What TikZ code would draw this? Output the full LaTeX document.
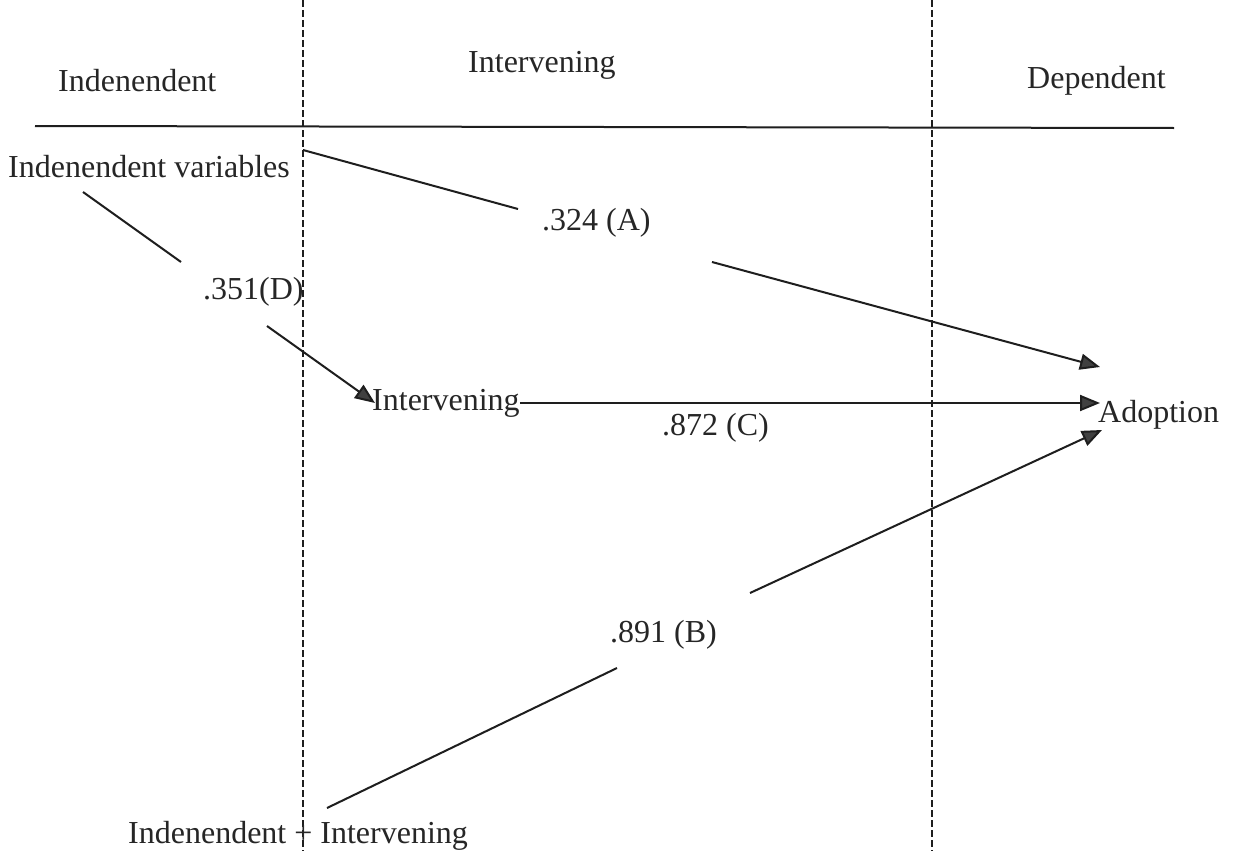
\documentclass[tikz,border=0pt]{standalone}
\usepackage{fontspec}
\setmainfont{Liberation Serif}
\usetikzlibrary{arrows.meta,calc}
\definecolor{ink}{HTML}{1E1E1E}
\definecolor{txt}{HTML}{262626}
\tikzset{
  lbl/.style={inner sep=0pt, anchor=base west, text=txt, font=\fontsize{32}{38}\selectfont},
  conn/.style={draw=ink, line width=2pt},
  arr/.style={conn, -{Triangle[length=20pt,width=16pt,fill=ink!85]}},
  divider/.style={draw=ink, line width=1.5pt, dash pattern=on 7pt off 3pt},
  rule/.style={draw=ink, line width=2pt}
}
\begin{document}
\begin{tikzpicture}[x=1pt,y=-1pt]
\useasboundingbox[fill=white] (0,0) rectangle (1233,851);
% column dividers
\coordinate (d1top) at (303,0);
\coordinate (d1bot) at (303,851);
\coordinate (d2top) at (932,0);
\coordinate (d2bot) at (932,851);
\draw[divider] (d1top) -- (d1bot);
\draw[divider] (d2top) -- (d2bot);
% header rule
\coordinate (ruleL) at (35,126);
\coordinate (ruleR) at (1174,128);
\draw[rule] (ruleL) -- (ruleR);
% headers
\node[lbl] (hInd) at (58,92) {Indenendent};
\node[lbl] (hInt) at (468,72) {Intervening};
\node[lbl] (hDep) at (1027,88) {Dependent};
% nodes
\node[lbl] (indvar) at (8,177) {Indenendent variables};
\node[lbl] (intmid) at (372,410) {Intervening};
\node[lbl] (adopt) at (1098,422) {Adoption};
\node[lbl] (both) at (128,843) {Indenendent + Intervening};
% path labels
\node[lbl] (lA) at (542,230) {.324 (A)};
\node[lbl] (lD) at (203,299) {.351(D)};
\node[lbl] (lC) at (662,435) {.872 (C)};
\node[lbl] (lB) at (610,642) {.891 (B)};
% free ends of broken connectors
\coordinate (a1) at (303,150);
\coordinate (a2) at (518,209);
\coordinate (a3) at (712,262);
\coordinate (d1) at (83,192);
\coordinate (d2) at (181,262);
\coordinate (d3) at (267,326);
\coordinate (b1) at (327,808);
\coordinate (b2) at (617,668);
\coordinate (b3) at (750,593);
% connectors
\draw[conn] (a1) -- (a2);
\draw[arr] (a3) -- ($(adopt.base west)+(2,-55)$);
\draw[conn] (d1) -- (d2);
\draw[arr] (d3) -- ($(intmid.base west)+(3,-7)$);
\draw[arr] ($(intmid.base east)+(0,-7)$) -- ($(adopt.base west)+(2,-19)$);
\draw[conn] (b1) -- (b2);
\draw[arr] (b3) -- ($(adopt.base west)+(4,8)$);
\end{tikzpicture}
\end{document}
